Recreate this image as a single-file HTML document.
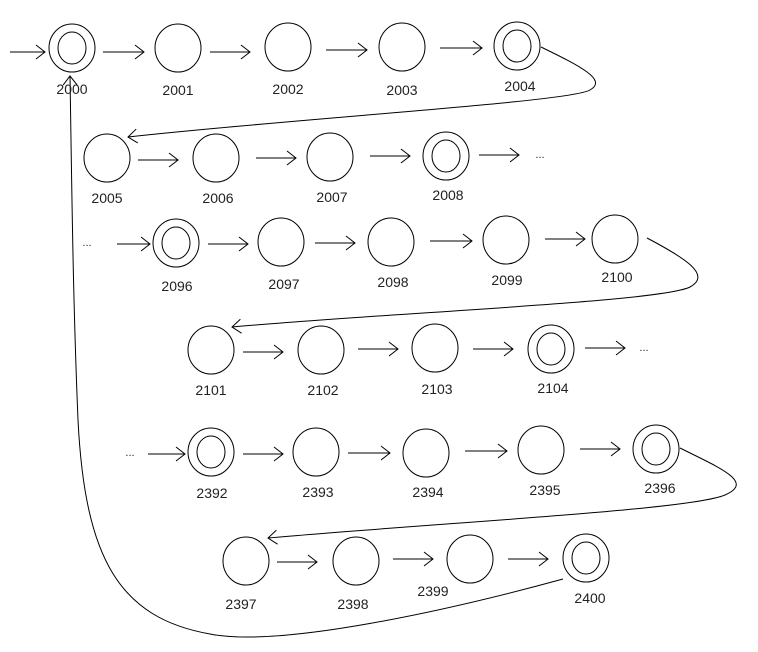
<!DOCTYPE html>
<html><head><meta charset="utf-8"><style>
html,body{margin:0;padding:0;background:#fff;}
svg{display:block;}
text{font-family:"Liberation Sans",sans-serif;font-size:14px;fill:#222;text-anchor:middle;}
</style></head><body>
<svg width="758" height="652" viewBox="0 0 758 652" xmlns="http://www.w3.org/2000/svg">
<defs>
<marker id="a" markerWidth="12" markerHeight="16" refX="10" refY="8" orient="auto" markerUnits="userSpaceOnUse">
<path d="M1,1 L10,8 L1,15" fill="none" stroke="#000" stroke-width="1"/>
</marker>
</defs>
<g fill="none" stroke="#000" stroke-width="1">
<!-- row1 -->
<ellipse cx="72" cy="48" rx="23" ry="24"/><ellipse cx="72" cy="48" rx="14" ry="16"/>
<ellipse cx="178" cy="48" rx="23" ry="24"/>
<ellipse cx="288" cy="47" rx="23" ry="24"/>
<ellipse cx="402" cy="47" rx="23" ry="24"/>
<ellipse cx="517" cy="46" rx="23" ry="24"/><ellipse cx="517" cy="46" rx="14" ry="16"/>
<line x1="10" y1="52" x2="45" y2="52" marker-end="url(#a)"/>
<line x1="103" y1="52" x2="144" y2="52" marker-end="url(#a)"/>
<line x1="210" y1="52" x2="250" y2="52" marker-end="url(#a)"/>
<line x1="326" y1="50" x2="367" y2="50" marker-end="url(#a)"/>
<line x1="440" y1="48" x2="482" y2="48" marker-end="url(#a)"/>
<path d="M541,47 C580,66 608,80 590,90 C570,102 300,118 128,137" marker-end="url(#a)"/>
<!-- row2 -->
<ellipse cx="107" cy="158" rx="23" ry="24"/>
<ellipse cx="216" cy="158" rx="23" ry="24"/>
<ellipse cx="330" cy="157" rx="23" ry="24"/>
<ellipse cx="446" cy="156" rx="23" ry="24"/><ellipse cx="446" cy="156" rx="14" ry="16"/>
<line x1="138" y1="160" x2="178" y2="160" marker-end="url(#a)"/>
<line x1="256" y1="158" x2="296" y2="158" marker-end="url(#a)"/>
<line x1="370" y1="156" x2="410" y2="156" marker-end="url(#a)"/>
<line x1="479" y1="155" x2="519" y2="155" marker-end="url(#a)"/>
<!-- row3 -->
<ellipse cx="176" cy="243" rx="23" ry="24"/><ellipse cx="176" cy="243" rx="14" ry="16"/>
<ellipse cx="281" cy="242" rx="23" ry="24"/>
<ellipse cx="391" cy="242" rx="23" ry="24"/>
<ellipse cx="506" cy="240" rx="23" ry="24"/>
<ellipse cx="615" cy="239" rx="23" ry="24"/>
<line x1="117" y1="244" x2="150" y2="244" marker-end="url(#a)"/>
<line x1="208" y1="244" x2="248" y2="244" marker-end="url(#a)"/>
<line x1="315" y1="243" x2="355" y2="243" marker-end="url(#a)"/>
<line x1="430" y1="241" x2="472" y2="241" marker-end="url(#a)"/>
<line x1="545" y1="239" x2="585" y2="239" marker-end="url(#a)"/>
<path d="M647,238 C685,258 712,275 690,287 C660,302 400,312 232,327" marker-end="url(#a)"/>
<!-- row4 -->
<ellipse cx="211" cy="350" rx="23" ry="24"/>
<ellipse cx="321" cy="350" rx="23" ry="24"/>
<ellipse cx="435" cy="348" rx="23" ry="24"/>
<ellipse cx="551" cy="349" rx="23" ry="24"/><ellipse cx="551" cy="349" rx="14" ry="16"/>
<line x1="243" y1="352" x2="283" y2="352" marker-end="url(#a)"/>
<line x1="358" y1="349" x2="398" y2="349" marker-end="url(#a)"/>
<line x1="473" y1="349" x2="513" y2="349" marker-end="url(#a)"/>
<line x1="585" y1="348" x2="625" y2="348" marker-end="url(#a)"/>
<!-- row5 -->
<ellipse cx="211" cy="452" rx="23" ry="24"/><ellipse cx="211" cy="452" rx="14" ry="16"/>
<ellipse cx="316" cy="452" rx="23" ry="24"/>
<ellipse cx="426" cy="453" rx="23" ry="24"/>
<ellipse cx="541" cy="450" rx="23" ry="24"/>
<ellipse cx="656" cy="449" rx="23" ry="24"/><ellipse cx="656" cy="449" rx="14" ry="16"/>
<line x1="148" y1="454" x2="185" y2="454" marker-end="url(#a)"/>
<line x1="243" y1="454" x2="283" y2="454" marker-end="url(#a)"/>
<line x1="348" y1="453" x2="390" y2="453" marker-end="url(#a)"/>
<line x1="465" y1="451" x2="507" y2="451" marker-end="url(#a)"/>
<line x1="580" y1="449" x2="620" y2="449" marker-end="url(#a)"/>
<path d="M680,448 C720,468 755,482 725,495 C690,510 450,522 268,538" marker-end="url(#a)"/>
<!-- row6 -->
<ellipse cx="246" cy="561" rx="23" ry="24"/>
<ellipse cx="356" cy="561" rx="23" ry="24"/>
<ellipse cx="470" cy="559" rx="23" ry="24"/>
<ellipse cx="586" cy="558" rx="23" ry="24"/><ellipse cx="586" cy="558" rx="14" ry="16"/>
<line x1="277" y1="562" x2="317" y2="562" marker-end="url(#a)"/>
<line x1="393" y1="559" x2="433" y2="559" marker-end="url(#a)"/>
<line x1="508" y1="559" x2="548" y2="559" marker-end="url(#a)"/>
<!-- return curve -->
<path d="M563,579 C450,610 280,648 210,634 C120,618 85,560 78,420 C73,300 72,200 70,76" marker-end="url(#a)"/>
</g>
<g>
<text x="72" y="94">2000</text><text x="178" y="95">2001</text><text x="288" y="94">2002</text><text x="402" y="95">2003</text><text x="520" y="91">2004</text>
<text x="107" y="203">2005</text><text x="218" y="203">2006</text><text x="332" y="202">2007</text><text x="448" y="200">2008</text>
<text x="177" y="291">2096</text><text x="284" y="289">2097</text><text x="393" y="287">2098</text><text x="507" y="285">2099</text><text x="617" y="282">2100</text>
<text x="211" y="395">2101</text><text x="323" y="395">2102</text><text x="437" y="394">2103</text><text x="553" y="393">2104</text>
<text x="212" y="498">2392</text><text x="318" y="497">2393</text><text x="428" y="497">2394</text><text x="545" y="495">2395</text><text x="660" y="493">2396</text>
<text x="241" y="609">2397</text><text x="353" y="609">2398</text><text x="433" y="596">2399</text><text x="590" y="603">2400</text>
<text x="540" y="158" style="font-size:11px">...</text>
<text x="87" y="246" style="font-size:11px">...</text>
<text x="644" y="351" style="font-size:11px">...</text>
<text x="130" y="456" style="font-size:11px">...</text>
</g>
</svg>
</body></html>
